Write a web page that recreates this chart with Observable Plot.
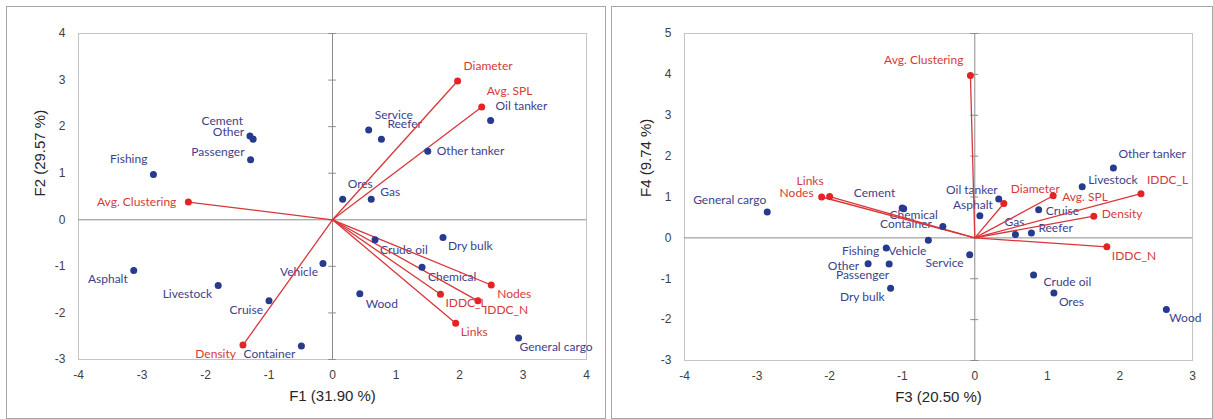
<!DOCTYPE html>
<html>
<head>
<meta charset="utf-8">
<script src="https://cdn.jsdelivr.net/npm/d3@7"></script>
<script src="https://cdn.jsdelivr.net/npm/@observablehq/plot@0.6"></script>
<style>
  html, body { margin: 0; padding: 0; background: #fff; }
  body { width: 1213px; height: 419px; overflow: hidden; position: relative; }
  .panel { position: absolute; top: 6px; height: 411px; border: 1px solid #a6a6a6; background: #fff; }
  #p1 { left: 6px; width: 598px; }
  #p2 { left: 611px; width: 600px; }
  .panel svg { display: block; }
</style>
</head>
<body>
<div id="p1" class="panel"></div>
<div id="p2" class="panel"></div>
<script>
// ---------- Data ----------
const obsNames = ["Asphalt", "Cement", "Chemical", "Container", "Crude oil", "Cruise", "Dry bulk",
  "Fishing", "Gas", "General cargo", "Livestock", "Ores", "Other", "Other tanker", "Oil tanker",
  "Passenger", "Reefer", "Service", "Vehicle", "Wood"];
const obsF1 = [-3.13, -1.30, 1.41, -0.49, 0.67, -1.00, 1.74, -2.82, 0.61, 2.93, -1.80, 0.16, -1.25, 1.50, 2.49, -1.29, 0.77, 0.57, -0.15, 0.43];
const obsF2 = [-1.09, 1.80, -1.02, -2.71, -0.43, -1.74, -0.38, 0.97, 0.44, -2.54, -1.41, 0.44, 1.73, 1.47, 2.13, 1.29, 1.73, 1.93, -0.94, -1.59];
const obsF3 = [0.07, -1.00, -0.98, -0.44, 0.81, 0.88, -1.16, -1.22, 0.56, -2.86, 1.48, 1.09, -1.47, 1.91, 0.33, -1.18, 0.78, -0.07, -0.64, 2.64];
const obsF4 = [0.54, 0.73, 0.71, 0.28, -0.91, 0.69, -1.23, -0.25, 0.08, 0.63, 1.25, -1.35, -0.63, 1.71, 0.95, -0.64, 0.12, -0.41, -0.06, -1.75];

const varNames = ["Diameter", "Avg. SPL", "Avg. Clustering", "Density", "Nodes", "IDDC_L", "IDDC_N", "Links"];
const varF1 = [1.97, 2.35, -2.27, -1.41, 2.50, 1.70, 2.29, 1.94];
const varF2 = [2.98, 2.42, 0.38, -2.69, -1.40, -1.60, -1.74, -2.22];
const varF3 = [0.40, 1.08, -0.06, 1.64, -2.11, 2.29, 1.82, -2.00];
const varF4 = [0.84, 1.03, 3.97, 0.53, 1.00, 1.08, -0.22, 1.01];

const ticksF1 = [-4, -3, -2, -1, 0, 1, 2, 3, 4];
const ticksF2 = [-3, -2, -1, 0, 1, 2, 3, 4];
const ticksF3 = [-4, -3, -2, -1, 0, 1, 2, 3];
const ticksF4 = [-3, -2, -1, 0, 1, 2, 3, 4, 5];

const titleF1 = "F1 (31.90 %)", titleF2 = "F2 (29.57 %)";
const titleF3 = "F3 (20.50 %)", titleF4 = "F4 (9.74 %)";

// ---------- Styling: label placement (anchor, dx, dy in px) ----------
const placeLeft = {
  "Fishing": ["end", -6, -15], "Cement": ["end", -7, -15], "Other": ["end", -9, -7],
  "Passenger": ["end", -6, -8], "Avg. Clustering": ["end", -12, 0], "Asphalt": ["end", -6, 9],
  "Livestock": ["end", -6, 9], "Cruise": ["end", -6, 9], "Vehicle": ["end", -5, 9],
  "Density": ["end", -7, 9], "Container": ["end", -6, 8], "Diameter": ["start", 6, -15],
  "Avg. SPL": ["start", 5, -16], "Oil tanker": ["start", 5, -14], "Service": ["start", 6, -15],
  "Reefer": ["start", 6, -15], "Other tanker": ["start", 9, 0], "Ores": ["start", 5, -15],
  "Gas": ["start", 9, -7], "Crude oil": ["start", 5, 10], "Dry bulk": ["start", 5, 9],
  "Chemical": ["start", 6, 10], "Nodes": ["start", 6, 9], "IDDC_L": ["start", 5, 9],
  "IDDC_N": ["start", 6, 9], "Links": ["start", 5, 9], "Wood": ["start", 6, 10],
  "General cargo": ["start", 1, 9]
};
const placeRight = {
  "Avg. Clustering": ["end", -7, -15], "Links": ["end", -6, -15], "Nodes": ["end", -8, -4],
  "General cargo": ["end", -1, -12], "Cement": ["end", -7, -15], "Chemical": ["middle", 10, 6],
  "Container": ["end", -11, -2], "Fishing": ["end", -7, 3], "Vehicle": ["end", -2, 11],
  "Other": ["end", -9, 3], "Passenger": ["end", 0, 11], "Dry bulk": ["end", -6, 9],
  "Service": ["end", -6, 9], "Oil tanker": ["end", -1, -9], "Asphalt": ["middle", -7, -11],
  "Diameter": ["start", 7, -14], "Avg. SPL": ["start", 9, 1], "Cruise": ["start", 7, 1],
  "Gas": ["middle", -1, -12], "Reefer": ["start", 7, -5], "Density": ["start", 8, -2],
  "IDDC_N": ["start", 5, 9], "IDDC_L": ["start", 6, -14], "Livestock": ["start", 6, -7],
  "Other tanker": ["start", 5, -14], "Crude oil": ["start", 10, 7], "Ores": ["start", 5, 9],
  "Wood": ["start", 3, 9]
};

const BLUE_DOT = "#263a8e", BLUE_TXT = "#3d3f8c";
const RED_DOT = "#e32326", RED_TXT = "#d63a3a", RED_LINE = "#d9363a";
const LABEL_FONT = "Lato, 'Open Sans', sans-serif";

function panel(el, oX, oY, vX, vY, xT, yT, xTitle, yTitle, place, dims) {
  const obs = obsNames.map((name, i) => ({name, x: oX[i], y: oY[i], kind: "obs"}));
  const vars = varNames.map((name, i) => ({name, x: vX[i], y: vY[i], kind: "var"}));
  const labels = [...obs, ...vars].map(d => {
    const [anchor, dx, dy] = place[d.name];
    return Plot.text([d], {
      x: "x", y: "y", text: "name", textAnchor: anchor, dx, dy, lineAnchor: "middle",
      fill: d.kind === "obs" ? BLUE_TXT : RED_TXT, fontSize: 12, fontFamily: LABEL_FONT
    });
  });
  const chart = Plot.plot({
    width: dims.width, height: dims.height,
    marginLeft: dims.ml, marginRight: dims.mr, marginTop: dims.mt, marginBottom: dims.mb,
    x: {domain: [xT[0], xT[xT.length - 1]]},
    y: {domain: [yT[0], yT[yT.length - 1]]},
    style: {fontFamily: "'Liberation Sans', Arial, sans-serif", background: "transparent", overflow: "visible"},
    marks: [
      Plot.frame({stroke: "#c4c4c4"}),
      Plot.ruleX([0], {stroke: "#8c8c8c"}),
      Plot.ruleY([0], {stroke: "#8c8c8c"}),
      Plot.ruleY(yT, {y: d => d, x1: -dims.tick, x2: dims.tick, stroke: "#8c8c8c"}),
      Plot.axisX({ticks: xT, tickSize: 0, tickPadding: 11, tickFormat: d => String(d),
        fontSize: 12, color: "#404040", label: null}),
      Plot.axisY({ticks: yT, tickSize: 0, tickPadding: 13, tickFormat: d => String(d),
        fontSize: 12, color: "#404040", label: null}),
      Plot.text([xTitle], {frameAnchor: "bottom", dy: 41, text: d => d, fontSize: 15, fill: "#262626"}),
      Plot.text([yTitle], {frameAnchor: "left", dx: -38, rotate: -90, text: d => d, fontSize: 15, fill: "#262626"}),
      ...labels,
      Plot.link(vars, {x1: 0, y1: 0, x2: "x", y2: "y", stroke: RED_LINE, strokeWidth: 1.3}),
      Plot.dot(obs, {x: "x", y: "y", r: 3.5, fill: BLUE_DOT}),
      Plot.dot(vars, {x: "x", y: "y", r: 3.5, fill: RED_DOT})
    ]
  });
  el.append(chart);
}

panel(document.getElementById("p1"), obsF1, obsF2, varF1, varF2, ticksF1, ticksF2, titleF1, titleF2, placeLeft,
  {width: 598, height: 411, ml: 71, mr: 19, mt: 26, mb: 59, tick: 0.06});
panel(document.getElementById("p2"), obsF3, obsF4, varF3, varF4, ticksF3, ticksF4, titleF3, titleF4, placeRight,
  {width: 600, height: 411, ml: 72, mr: 20, mt: 26, mb: 58, tick: 0.055});
</script>
</body>
</html>
